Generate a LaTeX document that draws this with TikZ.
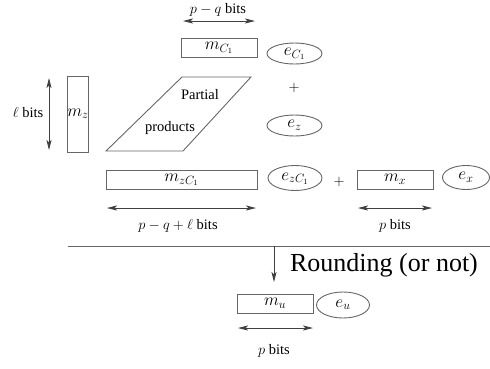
\documentclass[tikz,border=0pt]{standalone}
\usepackage{amsmath}
\usepackage{fontspec}
\setmainfont{Liberation Serif}
\usetikzlibrary{arrows, arrows.meta, positioning, shapes.geometric}

\begin{document}
\begin{tikzpicture}[x=1pt, y=-1pt, >={Stealth[length=10pt, width=5pt, inset=2.5pt]}, semithick]
      \tikzstyle{every node}=[font=\fontsize{14.5}{17}\selectfont]
      \tikzstyle{mant}=[draw=black!60, line width=0.9pt, rectangle, minimum height=19pt, inner sep=0pt, text height=7pt, text depth=3pt, font=\fontsize{17}{20}\selectfont]
      \tikzstyle{expo}=[draw=black!60, line width=0.9pt, ellipse, minimum width=55pt, minimum height=21pt, inner sep=0pt, text height=7pt, text depth=3pt, font=\fontsize{17}{20}\selectfont]
      \tikzstyle{dim}=[<->, line width=0.8pt, black!75]
      \useasboundingbox (0,0) rectangle (490,368);
      % operands
      \node[mant, minimum width=76pt] (mC) at (219,47.5) {$m_{C_1}$};
      \node[expo] (eC) at (294.5,53.5) {$e_{C_1}$};
      \node (plus1) at (294,88) {$+$};
      \node[expo] (ez) at (294.5,125.5) {$e_z$};
      \node[mant, minimum width=20pt, minimum height=76pt] (mz) at (78,114) {$m_z$};
      \draw[draw=black!60, line width=0.9pt] (106,151) -- (182,77) -- (251,77) -- (183,151) -- cycle;
      \node (partial) at (200,95) {Partial};
      \node (products) at (170,128) {products};
      % sum
      \node[mant, minimum width=151pt] (mzC) at (181.5,179.5) {$m_{zC_1}$};
      \node[expo, minimum width=54pt, minimum height=25pt] (ezC) at (295,178) {$e_{zC_1}$};
      \node (plus2) at (339,182) {$+$};
      \node[mant, minimum width=76pt] (mx) at (395,179.5) {$m_x$};
      \node[expo, minimum width=47pt, minimum height=24pt] (ex) at (466,177.5) {$e_x$};
      % result
      \node[mant, minimum width=76pt] (mu) at (275,303.5) {$m_u$};
      \node[expo, minimum width=53pt, minimum height=26pt] (eu) at (343,305) {$e_u$};
      % widths
      \coordinate (a1) at (183,21);  \coordinate (a2) at (255,21);
      \coordinate (b1) at (49,78);   \coordinate (b2) at (49,150);
      \coordinate (c1) at (107,208); \coordinate (c2) at (256,208);
      \coordinate (d1) at (358,208); \coordinate (d2) at (432,208);
      \coordinate (f1) at (238,328); \coordinate (f2) at (313,328);
      \draw[dim] (a1) -- (a2);
      \draw[dim] (b1) -- (b2);
      \draw[dim] (c1) -- (c2);
      \draw[dim] (d1) -- (d2);
      \draw[dim] (f1) -- (f2);
      \node[inner sep=1pt] (wa) at (218,9.5) {$p-q$ bits};
      \node (wb) at (28,113) {$\ell$ bits};
      \node (wc) at (178,226) {$p-q+\ell$ bits};
      \node (wd) at (395,226) {$p$ bits};
      \node (wf) at (274,351) {$p$ bits};
      % rounding
      \coordinate (r0) at (68,246);  \coordinate (r1) at (490,246);
      \coordinate (r2) at (274,246); \coordinate (r3) at (274,282);
      \draw[black!60, line width=0.9pt] (r0) -- (r1);
      \draw[->, line width=0.8pt, black!75] (r2) -- (r3);
      \node (round) at (384,265) {\fontsize{26}{30}\selectfont Rounding (or not)};
    \end{tikzpicture}
\end{document}
